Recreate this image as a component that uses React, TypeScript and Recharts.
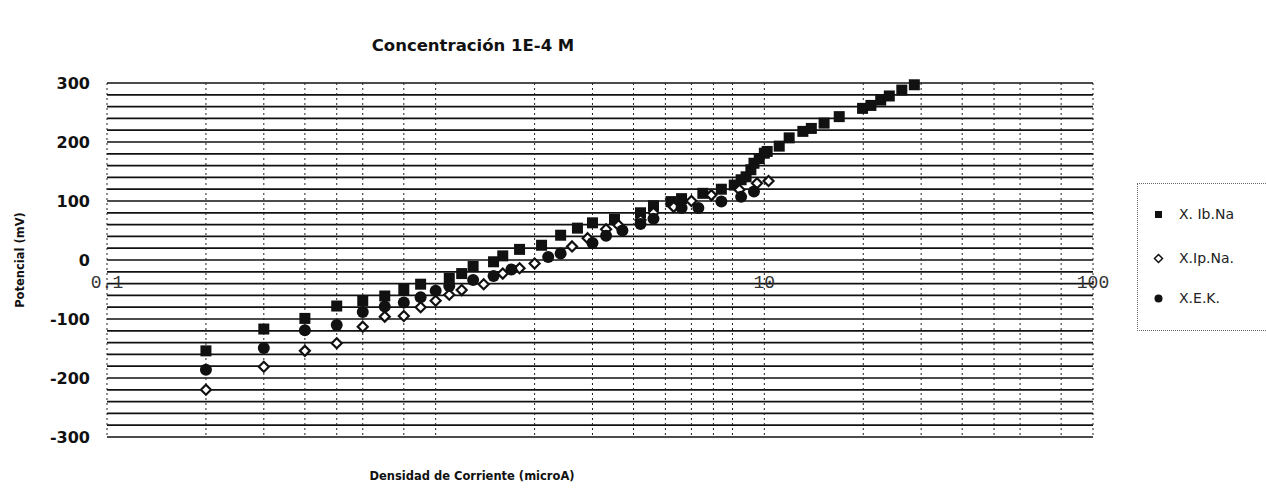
import { CartesianGrid, ReferenceDot, Scatter, ScatterChart, XAxis, YAxis } from "recharts";

const W = 1266;
const H = 501;

// X. Ib.Na (filled squares)
const ibNaX = [0.2, 0.3, 0.4, 0.5, 0.6, 0.7, 0.8, 0.9, 1.1, 1.2, 1.3, 1.5, 1.6, 1.8, 2.1, 2.4, 2.7, 3.0, 3.5, 4.2, 4.6, 5.2, 5.6, 6.5, 7.4, 8.1, 8.5, 8.8, 9.1, 9.3, 9.65, 10, 10.2, 11.1, 11.9, 13.1, 13.9, 15.2, 16.9, 19.9, 21.1, 22.6, 24, 26.2, 28.6];
const ibNaY = [-154, -117, -99, -78, -69, -61, -50, -41, -31, -23, -11, -3, 7, 18, 25, 42, 54, 63, 69, 80, 92, 99, 104, 113, 120, 127, 136, 141, 153, 164, 172, 181, 184, 193, 207, 218, 223, 232, 243, 257, 262, 271, 278, 288, 297];

// X.Ip.Na. (open diamonds)
const ipNaX = [0.2, 0.3, 0.4, 0.5, 0.6, 0.7, 0.8, 0.9, 1.0, 1.1, 1.2, 1.4, 1.6, 1.8, 2.0, 2.6, 2.9, 3.3, 3.6, 4.2, 4.6, 5.3, 6.0, 6.9, 8.4, 9.5, 10.3];
const ipNaY = [-220, -181, -154, -141, -113, -96, -95, -80, -69, -59, -51, -41, -23, -14, -6, 23, 37, 52, 59, 68, 80, 90, 100, 110, 119, 130, 134];

// X.E.K. (filled circles)
const ekX = [0.2, 0.3, 0.4, 0.5, 0.6, 0.7, 0.8, 0.9, 1.0, 1.1, 1.3, 1.5, 1.7, 2.2, 2.4, 3.0, 3.3, 3.7, 4.2, 4.6, 5.6, 6.3, 7.4, 8.5, 9.3];
const ekY = [-186, -149, -119, -110, -88, -79, -72, -63, -52, -44, -34, -27, -16, 5, 11, 29, 41, 50, 61, 70, 88, 88, 99, 107, 116];

const xGridTicks = [0.1, 0.2, 0.3, 0.4, 0.5, 0.6, 0.7, 0.8, 0.9, 1, 2, 3, 4, 5, 6, 7, 8, 9, 10, 20, 30, 40, 50, 60, 70, 80, 90, 100];
const xLabelTicks = [0.1, 10, 100];
const yGridTicks = [-300, -280, -260, -240, -220, -200, -180, -160, -140, -120, -100, -80, -60, -40, -20, 0, 20, 40, 60, 80, 100, 120, 140, 160, 180, 200, 220, 240, 260, 280, 300];
const yLabelTicks = [-300, -200, -100, 0, 100, 200, 300];

const toPoints = (xs: number[], ys: number[]) => xs.map((x, i) => ({ x, y: ys[i] }));

const ink = "#111";

const SquareMark = (p: any) => (
  <rect x={p.cx - 5.5} y={p.cy - 5.5} width={11} height={11} fill={ink} />
);
const DiamondMark = (p: any) => (
  <path
    d={`M${p.cx},${p.cy - 5} L${p.cx + 5},${p.cy} L${p.cx},${p.cy + 5} L${p.cx - 5},${p.cy} Z`}
    fill="#fff"
    stroke={ink}
    strokeWidth={2.2}
  />
);
const CircleMark = (p: any) => <circle cx={p.cx} cy={p.cy} r={6} fill={ink} />;

const font = "'DejaVu Sans', Verdana, sans-serif";

export default function App() {
  return (
    <div
      style={{
        position: "absolute",
        left: 0,
        top: 0,
        width: W,
        height: H,
        background: "#fff",
        overflow: "hidden",
      }}
    >
      <ScatterChart
        width={W}
        height={H}
        margin={{ top: 83, right: 173, bottom: 64, left: 47 }}
      >
        <CartesianGrid vertical={false} stroke="#111" strokeWidth={1.7} />
        <CartesianGrid horizontal={false} stroke="#222" strokeWidth={1} strokeDasharray="2 3" />
        <XAxis
          dataKey="x"
          type="number"
          scale="log"
          domain={[0.1, 100]}
          ticks={xGridTicks}
          allowDataOverflow
          hide
        />
        <YAxis
          dataKey="y"
          type="number"
          domain={[-300, 300]}
          ticks={yGridTicks}
          interval={0}
          width={60}
          axisLine={false}
          tickLine={false}
          tickMargin={11}
          tickFormatter={(v: number) => (yLabelTicks.includes(v) ? String(v) : "")}
          tick={{ fill: ink, fontSize: 16, fontWeight: "bold", fontFamily: font }}
        />
        {xLabelTicks.map((t) => (
          <ReferenceDot
            key={t}
            x={t}
            y={0}
            r={1}
            fill="none"
            stroke="none"
            label={{
              content: (props: any) => {
                const vb = props.viewBox || {};
                const cx = (vb.x ?? 0) + (vb.width ?? 0) / 2;
                const cy = (vb.y ?? 0) + (vb.height ?? 0) / 2;
                return (
                  <text
                    x={cx}
                    y={cy + 28}
                    textAnchor="middle"
                    fontFamily="'Liberation Mono', monospace"
                    fontSize={18}
                    fill="#333"
                  >
                    {String(t)}
                  </text>
                );
              },
            }}
          />
        ))}
        <Scatter
          name="X. Ib.Na"
          data={toPoints(ibNaX, ibNaY)}
          shape={SquareMark}
          isAnimationActive={false}
        />
        <Scatter
          name="X.Ip.Na."
          data={toPoints(ipNaX, ipNaY)}
          shape={DiamondMark}
          isAnimationActive={false}
        />
        <Scatter
          name="X.E.K."
          data={toPoints(ekX, ekY)}
          shape={CircleMark}
          isAnimationActive={false}
        />
      </ScatterChart>

      <svg
        width={W}
        height={H}
        style={{ position: "absolute", left: 0, top: 0, pointerEvents: "none" }}
      >
        <text x={473} y={45} textAnchor="middle" dominantBaseline="central" fontFamily={font} fontSize={16.5} fontWeight="bold" fill={ink}>
          Concentración 1E-4 M
        </text>
        <text x={472} y={476} textAnchor="middle" dominantBaseline="central" fontFamily={font} fontSize={11.5} fontWeight="bold" fill={ink}>
          Densidad de Corriente (microA)
        </text>
        <text
          x={20}
          y={260}
          textAnchor="middle"
          dominantBaseline="central"
          fontFamily={font}
          fontSize={11.5}
          fontWeight="bold"
          fill={ink}
          transform="rotate(-90 20 260)"
        >
          Potencial (mV)
        </text>
      </svg>

      <div
        style={{
          position: "absolute",
          left: 1137,
          top: 183,
          width: 150,
          height: 146,
          borderLeft: "1px dotted #666",
          borderTop: "1px dotted #666",
          borderBottom: "1px dotted #666",
          fontFamily: font,
          fontSize: 14,
          color: "#222",
        }}
      >
        {[
          { name: "X. Ib.Na", top: 30, mark: <rect x={3} y={3} width={7} height={7} fill={ink} /> },
          { name: "X.Ip.Na.", top: 74, mark: <path d="M6.5,2.5 L10.5,6.5 L6.5,10.5 L2.5,6.5 Z" fill="#fff" stroke={ink} strokeWidth={1.5} /> },
          { name: "X.E.K.", top: 114, mark: <circle cx={6.5} cy={6.5} r={4} fill={ink} /> },
        ].map((it) => (
          <div
            key={it.name}
            style={{
              position: "absolute",
              left: 14,
              top: it.top - 9,
              height: 18,
              display: "flex",
              alignItems: "center",
              whiteSpace: "nowrap",
            }}
          >
            <svg width={13} height={13} style={{ marginRight: 14 }}>
              {it.mark}
            </svg>
            <span>{it.name}</span>
          </div>
        ))}
      </div>
    </div>
  );
}
